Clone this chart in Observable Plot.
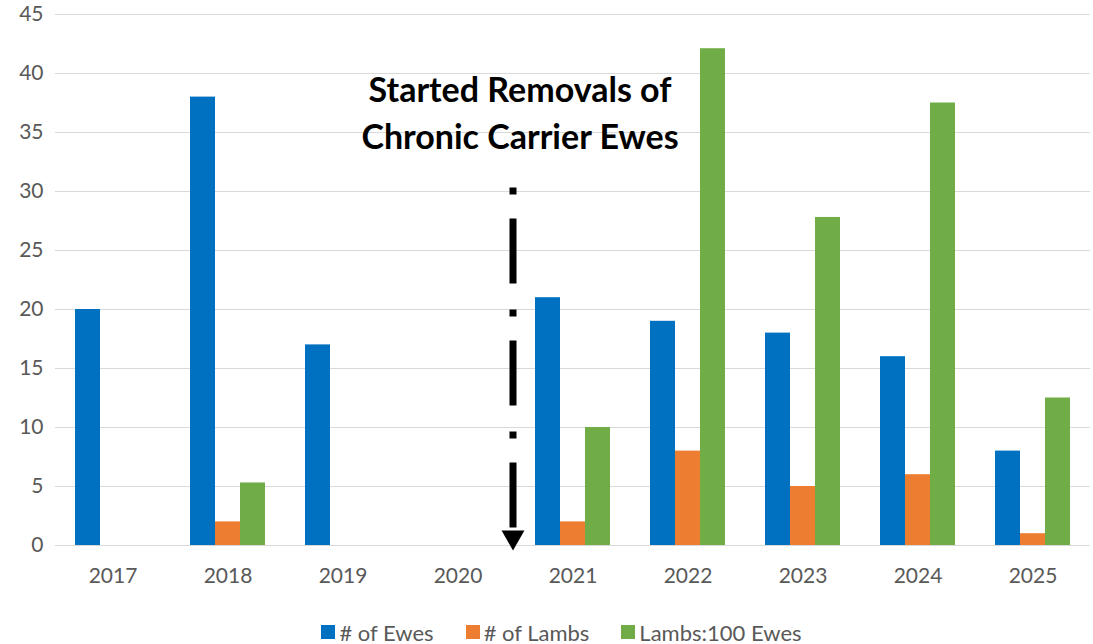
<!DOCTYPE html>
<html>
<head>
<meta charset="utf-8">
<script src="https://cdn.jsdelivr.net/npm/d3@7"></script>
<script src="https://cdn.jsdelivr.net/npm/@observablehq/plot@0.6"></script>
<style>
  html, body { margin: 0; padding: 0; background: #ffffff; }
  body { width: 1093px; height: 644px; overflow: hidden; font-family: Lato, "Open Sans", sans-serif; }
  #legend { display: flex; justify-content: center; align-items: center; gap: 32px; margin-top: 19px; font-size: 22px; color: #595959; height: 26px; padding-left: 30px; }
  #legend .item { display: flex; align-items: center; gap: 4px; }
  #legend .sw { width: 14px; height: 14px; display: inline-block; }
</style>
</head>
<body>
<div id="chart"></div>
<div id="legend"></div>
<script>
const years = ["2017", "2018", "2019", "2020", "2021", "2022", "2023", "2024", "2025"];
const series = ["# of Ewes", "# of Lambs", "Lambs:100 Ewes"];
const colors = ["#0070C0", "#ED7D31", "#70AD47"];
const ewes  = [20, 38, 17, null, 21, 19, 18, 16, 8];
const lambs = [null, 2, null, null, 2, 8, 5, 6, 1];
const ratio = [null, 5.3, null, null, 10, 42.1, 27.8, 37.5, 12.5];
const yTicks = [0, 5, 10, 15, 20, 25, 30, 35, 40, 45];
const annotationYear = "2020";
const annotationText = "Started Removals of\nChronic Carrier Ewes";
const arrowTop = 30.3;

const rows = [];
years.forEach((yr, i) => {
  [ewes, lambs, ratio].forEach((arr, j) => {
    if (arr[i] != null) rows.push({year: yr, series: series[j], value: arr[i]});
  });
});

const plot = Plot.plot({
  width: 1093,
  height: 600,
  marginLeft: 55,
  marginRight: 3,
  marginTop: 14,
  marginBottom: 55,
  style: {fontFamily: "Lato, 'Open Sans', sans-serif", fontSize: "21px", color: "#595959", background: "#ffffff"},
  fx: {domain: years, padding: 0, label: null},
  x: {domain: series, paddingInner: 0, paddingOuter: 0.74, axis: null},
  y: {domain: [0, 45], label: null},
  color: {domain: series, range: colors},
  marks: [
    Plot.gridY(yTicks, {stroke: "#d9d9d9", strokeOpacity: 1, strokeWidth: 1.2}),
    Plot.axisY(yTicks, {tickSize: 0, tickPadding: 12, label: null, fill: "#595959"}),
    Plot.axisFx({anchor: "bottom", tickSize: 0, tickPadding: 23, label: null, fill: "#595959"}),
    Plot.barY(rows, {fx: "year", x: "series", y: "value", fill: "series", inset: 0}),
    Plot.ruleY([0], {stroke: "#d9d9d9", strokeWidth: 1.2}),
    Plot.ruleX([{year: annotationYear, s: series[2]}], {
      fx: "year", x: "s", dx: 30, y1: arrowTop, y2: 1.3,
      stroke: "#000", strokeWidth: 7, strokeDasharray: "7,24,65,26", strokeLinecap: "butt"
    }),
    Plot.dot([{year: annotationYear, s: series[2]}], {
      fx: "year", x: "s", dx: 30, y: 0, dy: -8.3, symbol: "triangle", r: 8.5, rotate: 180, fill: "#000", stroke: null
    }),
    Plot.text([{year: annotationYear, s: series[2], t: annotationText}], {
      fx: "year", x: "s", dx: 37, y: 36.9, text: "t", fontSize: 34, fontWeight: "bold", fill: "#000",
      lineHeight: 1.38, lineAnchor: "middle", textAnchor: "middle"
    })
  ]
});
document.getElementById("chart").appendChild(plot);

const legend = document.getElementById("legend");
series.forEach((s, i) => {
  const item = document.createElement("div");
  item.className = "item";
  const sw = document.createElement("span");
  sw.className = "sw";
  sw.style.background = colors[i];
  const lbl = document.createElement("span");
  lbl.textContent = s;
  item.appendChild(sw);
  item.appendChild(lbl);
  legend.appendChild(item);
});
</script>
</body>
</html>
